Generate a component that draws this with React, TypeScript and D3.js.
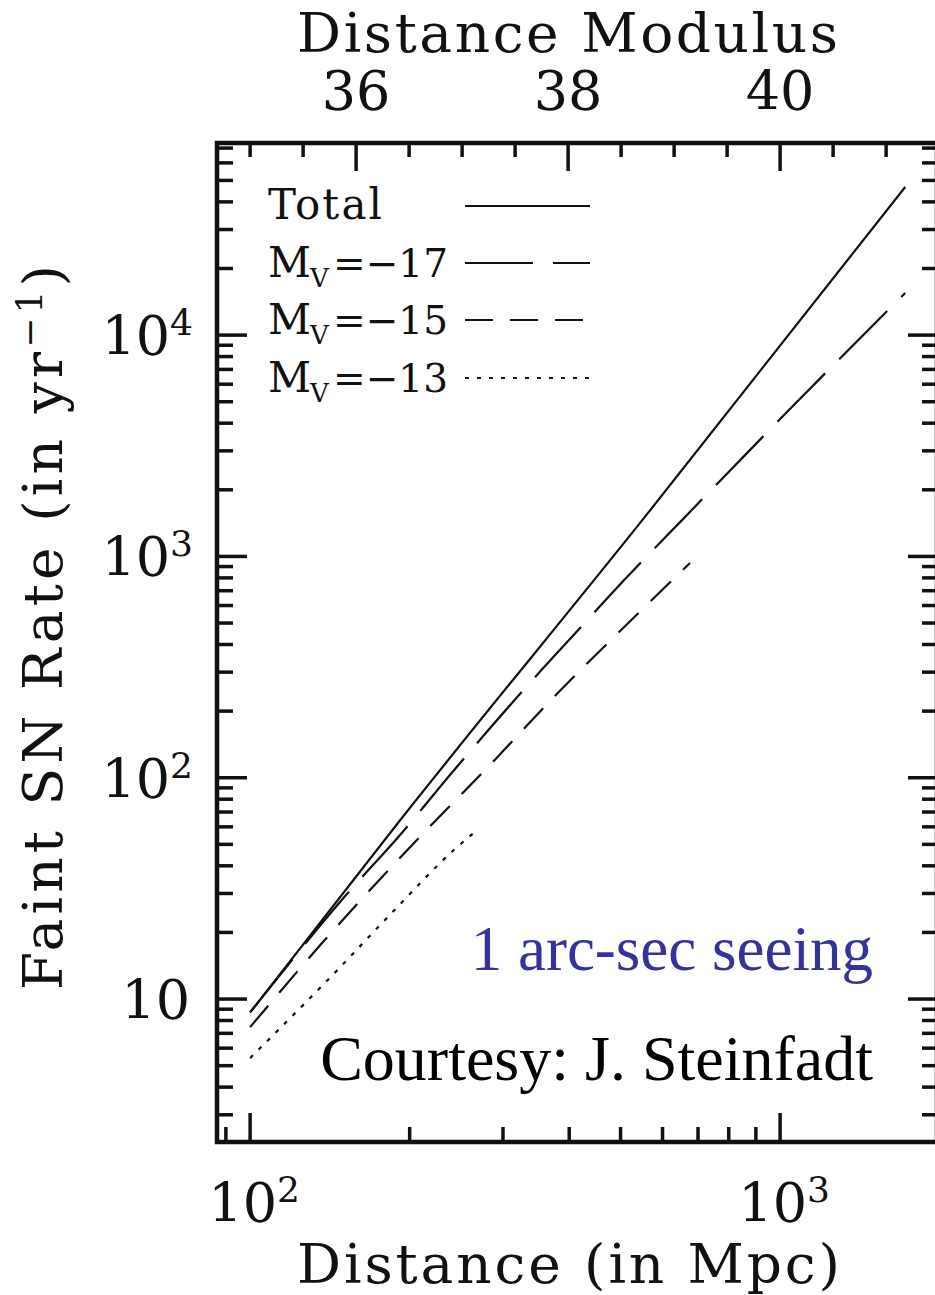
import React from "react";
import * as d3 from "d3";

// ---- data ----
const totalDist = [100, 192, 550, 1722];
const totalRate = [8.7, 64.4, 1462, 46700];

const m17Dist = [100, 150, 194, 240, 337, 416, 510, 653, 1081, 1722];
const m17Rate = [8.7, 28.6, 56.9, 105, 268, 465, 790, 1459, 5050, 15490];

const m15Dist = [100, 136.7, 202, 290, 381, 517, 676];
const m15Rate = [7.47, 17.9, 49.6, 121, 242, 500, 934];

const m13Dist = [100, 146, 185, 242, 268];
const m13Rate = [5.41, 13.5, 24.5, 47, 58];

const yMajorTicks = [10, 100, 1000, 10000];
const yMajorLabels = ["10", "10|2", "10|3", "10|4"];
const xMajorTicks = [100, 1000];
const xMajorLabels = ["10|2", "10|3"];
const muMajorTicks = [36, 38, 40];
const muMinorStep = 0.5;

const legendLabels = ["Total", "-17", "-15", "-13"];

// ---- layout ----
const W = 935;
const H = 1295;
const LEFT = 217;
const RIGHT = 937;
const TOP = 143;
const BOTTOM = 1142;

const serif = "'DejaVu Serif', serif";

export default function App() {
  const x = d3.scaleLog().domain([86.6, 1977]).range([LEFT, RIGHT]);
  const y = d3.scaleLog().domain([2.26, 73800]).range([BOTTOM, TOP]);

  const line = d3
    .line<[number, number]>()
    .x((d) => x(d[0]))
    .y((d) => y(d[1]))
    .curve(d3.curveMonotoneX);

  const zip = (a: number[], b: number[]) =>
    a.map((v, i) => [v, b[i]] as [number, number]);

  const series = [
    { pts: zip(totalDist, totalRate), dash: "none" },
    { pts: zip(m17Dist, m17Rate), dash: "68,20" },
    { pts: zip(m15Dist, m15Rate), dash: "28,17" },
    { pts: zip(m13Dist, m13Rate), dash: "4,8" },
  ];

  // minor ticks for log axes
  const [yd0, yd1] = y.domain();
  const yMinor: number[] = [];
  for (let e = 0; e <= 5; e++) {
    for (let k = 2; k <= 9; k++) {
      const v = k * Math.pow(10, e);
      if (v > yd0 && v < yd1) yMinor.push(v);
    }
  }
  const [xd0, xd1] = x.domain();
  const xMinor: number[] = [];
  for (let e = 1; e <= 3; e++) {
    for (let k = 2; k <= 9; k++) {
      const v = k * Math.pow(10, e);
      if (v > xd0 && v < xd1) xMinor.push(v);
    }
  }
  const muToDist = (mu: number) => Math.pow(10, (mu - 25) / 5);
  const muMinor: number[] = [];
  for (let mu = 30; mu <= 45; mu += muMinorStep) {
    const dd = muToDist(mu);
    if (dd > xd0 && dd < xd1 && !muMajorTicks.includes(mu)) muMinor.push(mu);
  }

  const tickStroke = "#111";
  const tw = 3.5;

  const supLabel = (lab: string) => {
    const [base, sup] = lab.split("|");
    return (
      <>
        {base}
        {sup && (
          <tspan fontSize={36} dy={-20}>
            {sup}
          </tspan>
        )}
      </>
    );
  };

  const legendY = [206, 263, 320, 378];

  return (
    <svg
      width={W}
      height={H}
      style={{ position: "absolute", left: 0, top: 0, background: "#fff" }}
      fontFamily={serif}
    >
      <rect x={0} y={0} width={W} height={H} fill="#fff" />
      <defs>
        <clipPath id="plotClip">
          <rect x={LEFT} y={TOP} width={RIGHT - LEFT} height={BOTTOM - TOP} />
        </clipPath>
      </defs>

      {/* data lines */}
      <g clipPath="url(#plotClip)" fill="none" stroke="#111" strokeWidth={2.2}>
        {series.map((s, i) => (
          <path
            key={i}
            d={line(s.pts) || ""}
            strokeDasharray={s.dash === "none" ? undefined : s.dash}
          />
        ))}
      </g>

      {/* frame */}
      <rect
        x={LEFT}
        y={TOP}
        width={RIGHT - LEFT}
        height={BOTTOM - TOP}
        fill="none"
        stroke={tickStroke}
        strokeWidth={4.5}
      />

      {/* ticks */}
      <g stroke={tickStroke} strokeWidth={tw}>
        {yMajorTicks.map((v) => (
          <g key={"ym" + v}>
            <line x1={LEFT} x2={LEFT + 30} y1={y(v)} y2={y(v)} />
            <line x1={RIGHT} x2={RIGHT - 29} y1={y(v)} y2={y(v)} />
          </g>
        ))}
        {yMinor.map((v) => (
          <g key={"yn" + v}>
            <line x1={LEFT} x2={LEFT + 16} y1={y(v)} y2={y(v)} />
            <line x1={RIGHT} x2={RIGHT - 15} y1={y(v)} y2={y(v)} />
          </g>
        ))}
        {xMajorTicks.map((v) => (
          <line key={"xm" + v} x1={x(v)} x2={x(v)} y1={BOTTOM} y2={BOTTOM - 29} />
        ))}
        {xMinor.map((v) => (
          <line key={"xn" + v} x1={x(v)} x2={x(v)} y1={BOTTOM} y2={BOTTOM - 15} />
        ))}
        {muMajorTicks.map((mu) => (
          <line
            key={"mm" + mu}
            x1={x(muToDist(mu))}
            x2={x(muToDist(mu))}
            y1={TOP}
            y2={TOP + 28}
          />
        ))}
        {muMinor.map((mu) => (
          <line
            key={"mn" + mu}
            x1={x(muToDist(mu))}
            x2={x(muToDist(mu))}
            y1={TOP}
            y2={TOP + 14}
          />
        ))}
      </g>

      {/* y tick labels */}
      <g fontSize={54} fill="#111" textAnchor="end">
        {yMajorTicks.map((v, i) => (
          <text key={"yl" + v} x={yMajorLabels[i].includes("|") ? 193 : 190} y={y(v) + 20}>
            {supLabel(yMajorLabels[i])}
          </text>
        ))}
      </g>

      {/* x tick labels */}
      <g fontSize={54} fill="#111" textAnchor="middle">
        {xMajorTicks.map((v, i) => (
          <text key={"xl" + v} x={x(v) + 4} y={1222}>
            {supLabel(xMajorLabels[i])}
          </text>
        ))}
      </g>

      {/* top tick labels */}
      <g fontSize={54} fill="#111" textAnchor="middle">
        {muMajorTicks.map((mu) => (
          <text key={"tl" + mu} x={x(muToDist(mu))} y={110}>
            {mu}
          </text>
        ))}
      </g>

      {/* axis titles */}
      <text x={297} y={52} fontSize={55} fill="#111" textLength={541} lengthAdjust="spacing">
        Distance Modulus
      </text>
      <text x={297} y={1283} fontSize={55} fill="#111" textLength={543} lengthAdjust="spacing">
        Distance (in Mpc)
      </text>
      <text
        transform="translate(62,990) rotate(-90)"
        x={0}
        y={0}
        fontSize={55}
        fill="#111"
        textLength={725}
        lengthAdjust="spacing"
      >
        Faint SN Rate (in yr
        <tspan fontSize={36} dy={-20}>
          −1
        </tspan>
        <tspan dy={20}>)</tspan>
      </text>

      {/* legend */}
      <g fontSize={42} fill="#111">
        {legendLabels.map((lab, i) => (
          <g key={"lg" + i}>
            {lab === "Total" ? (
              <text x={268} y={legendY[i] + 13} textLength={114} lengthAdjust="spacing">
                Total
              </text>
            ) : (
              <>
                <text x={268} y={legendY[i] + 14}>
                  M
                </text>
                <text x={310} y={legendY[i] + 24} fontSize={26}>
                  V
                </text>
                <text x={333} y={legendY[i] + 14} fontSize={39}>
                  =−{lab.replace("-", "")}
                </text>
              </>
            )}
            <line
              x1={465}
              x2={590}
              y1={legendY[i]}
              y2={legendY[i]}
              stroke="#111"
              strokeWidth={2.2}
              strokeDasharray={series[i].dash === "none" ? undefined : series[i].dash}
            />
          </g>
        ))}
      </g>

      {/* annotations */}
      <text
        x={873}
        y={970}
        textAnchor="end"
        fontFamily="'Liberation Serif', 'Times New Roman', serif"
        fontSize={63}
        fill="#333399"
      >
        1 arc-sec seeing
      </text>
      <text
        x={873}
        y={1080}
        textAnchor="end"
        fontFamily="'Liberation Serif', 'Times New Roman', serif"
        fontSize={64}
        fill="#000"
      >
        Courtesy: J. Steinfadt
      </text>
    </svg>
  );
}
